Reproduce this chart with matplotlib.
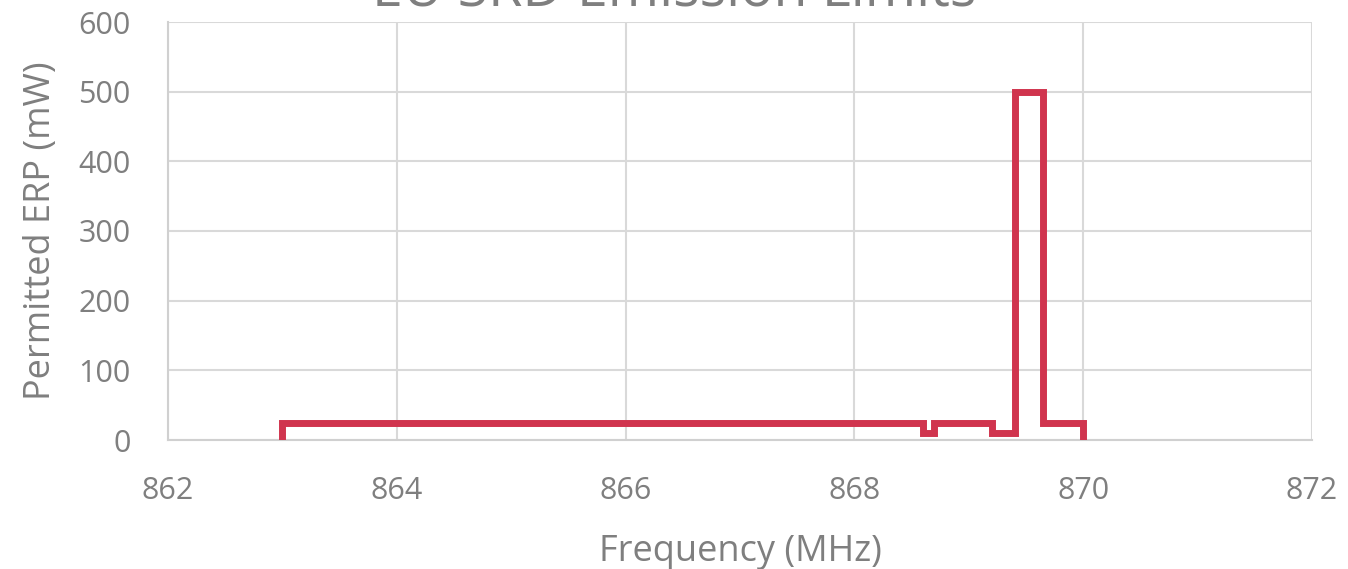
import matplotlib
matplotlib.use("Agg")
import matplotlib.pyplot as plt

# Data: step edges (MHz) and permitted ERP (mW)
freq = [863.0, 863.0, 868.6, 868.6, 868.7, 868.7, 869.2, 869.2, 869.4, 869.4, 869.65, 869.65, 870.0, 870.0]
erp  = [0,     25,    25,    10,    10,    25,    25,    10,    10,    500,   500,    25,     25,    0]
xticks = [862, 864, 866, 868, 870, 872]
yticks = [0, 100, 200, 300, 400, 500, 600]

plt.rcParams['font.family'] = ['Open Sans', 'DejaVu Sans']

fig = plt.figure(figsize=(13.48, 5.69), dpi=100)
ax = fig.add_axes([168/1348, 1-440/569, (1312-168)/1348, (440-22)/569])

ax.plot(freq, erp, color='#D0344E', linewidth=5, solid_joinstyle='miter', zorder=3)

ax.set_xlim(862, 872)
ax.set_ylim(0, 600)
ax.set_xticks(xticks)
ax.set_yticks(yticks)
ax.grid(True, color='#D9D9D9', linewidth=1.5)
ax.set_axisbelow(True)
for s in ['top', 'right']:
    ax.spines[s].set_visible(False)
for s in ['left', 'bottom']:
    ax.spines[s].set_color('#D0D0D0')
    ax.spines[s].set_linewidth(1.5)
ax.tick_params(length=0, labelsize=22, labelcolor='#7F7F7F')
ax.tick_params(axis='x', pad=26)
ax.tick_params(axis='y', pad=27)
ax.set_xlabel('Frequency (MHz)', fontsize=26, color='#7F7F7F', labelpad=20)
ax.set_ylabel('Permitted ERP (mW)', fontsize=26, color='#7F7F7F', labelpad=14)

fig.text(0.5, 1 - 5/569, 'EU SRD Emission Limits', ha='center', va='baseline',
         fontsize=40, color='#7F7F7F')

fig.savefig('out.png', dpi=100)
